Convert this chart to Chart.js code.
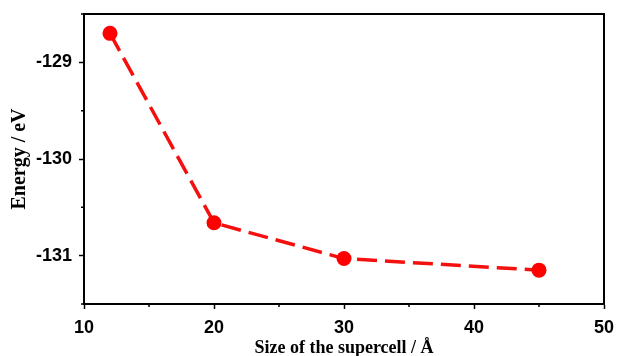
<!DOCTYPE html>
<html>
<head>
<meta charset="utf-8">
<script src="https://cdn.jsdelivr.net/npm/chart.js@4"></script>
<style>
  html, body { margin: 0; padding: 0; background: #fff; }
  #wrap { width: 617px; height: 356px; }
</style>
</head>
<body>
<div id="wrap"><canvas id="myChart"></canvas></div>
<script>
// supercell size (Å) and total energy (eV)
const sizes = [12, 20, 30, 45];
const energies = [-128.70, -130.66, -131.03, -131.15];

const yTicks = [-131, -130, -129];
const xTitle = 'Size of the supercell / Å';
const yTitle = 'Energy / eV';

const tickFont = { family: 'Liberation Sans', size: 18, weight: 'bold' };
const xTitleFont = { family: 'Liberation Serif', size: 18, weight: 'bold' };
const yTitleFont = { family: 'Liberation Serif', size: 20, weight: 'bold' };

// frame around the plot + short minor ticks
const framePlugin = {
    id: 'frame',
    afterDraw(chart) {
        const { ctx, chartArea: a, scales } = chart;
        ctx.save();
        ctx.strokeStyle = '#000';
        ctx.lineWidth = 2;
        ctx.strokeRect(a.left, a.top, a.right - a.left, a.bottom - a.top);
        ctx.lineWidth = 1.5;
        ctx.beginPath();
        for (let v = 15; v < 50; v += 10) {
            const px = scales.x.getPixelForValue(v);
            ctx.moveTo(px, a.bottom);
            ctx.lineTo(px, a.bottom + 3);
        }
        for (let v = -131.5; v <= -128.5; v += 1) {
            const py = scales.y.getPixelForValue(v);
            ctx.moveTo(a.left, py);
            ctx.lineTo(a.left - 3, py);
        }
        ctx.stroke();
        ctx.restore();
    }
};

const ctx = document.getElementById('myChart').getContext('2d');
const myChart = new Chart(ctx, {
    type: 'line',
    data: {
        datasets: [{
            data: sizes.map((s, i) => ({ x: s, y: energies[i] })),
            borderColor: '#f51010',
            backgroundColor: '#ff0000',
            borderWidth: 3.5,
            borderDash: [20, 8],
            pointRadius: 7.5,
            pointHoverRadius: 7.5,
            pointBorderWidth: 0,
            tension: 0
        }]
    },
    options: {
        responsive: true,
        maintainAspectRatio: false,
        animation: false,
        layout: { padding: { top: 14, right: 13, left: 8, bottom: 0 } },
        plugins: { legend: { display: false }, tooltip: { enabled: false } },
        scales: {
            x: {
                type: 'linear',
                min: 10,
                max: 50,
                ticks: {
                    stepSize: 10,
                    color: '#000',
                    font: tickFont,
                    padding: 8,
                    maxRotation: 0
                },
                grid: {
                    drawOnChartArea: false,
                    tickLength: 5,
                    tickWidth: 1.5,
                    tickColor: '#000'
                },
                border: { color: '#000', width: 2 },
                title: {
                    display: true,
                    text: xTitle,
                    color: '#000',
                    font: xTitleFont,
                    padding: { top: 4, bottom: -3 }
                },
                afterFit(scale) {
                    scale.height = 52;
                    scale.paddingLeft = 0;
                    scale.paddingRight = 0;
                }
            },
            y: {
                min: -131.5,
                max: -128.5,
                afterBuildTicks(scale) {
                    scale.ticks = yTicks.map(v => ({ value: v }));
                },
                ticks: {
                    color: '#000',
                    font: tickFont,
                    padding: 7
                },
                grid: {
                    drawOnChartArea: false,
                    tickLength: 5,
                    tickWidth: 1.5,
                    tickColor: '#000'
                },
                border: { color: '#000', width: 2 },
                title: {
                    display: true,
                    text: yTitle,
                    color: '#000',
                    font: yTitleFont,
                    padding: { top: 0, bottom: 0 }
                },
                afterFit(scale) {
                    scale.width = 76;
                    scale.paddingTop = 0;
                    scale.paddingBottom = 0;
                }
            }
        }
    },
    plugins: [framePlugin]
});
</script>
</body>
</html>
